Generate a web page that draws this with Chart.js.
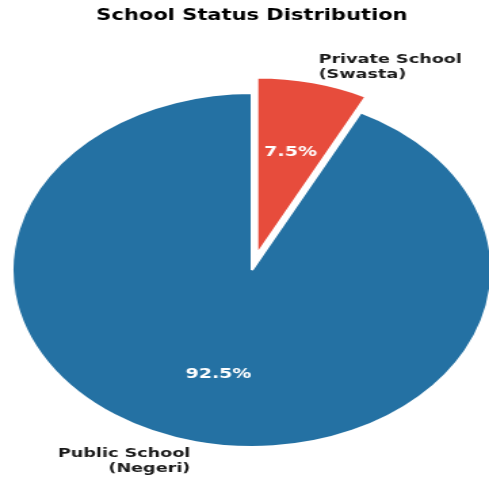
<!DOCTYPE html>
<html>
<head>
<meta charset="utf-8">
<script src="https://cdn.jsdelivr.net/npm/chart.js@4.4.0/dist/chart.umd.min.js"></script>
<style>
  html, body { margin: 0; padding: 0; background: #fff; }
  #pie { display: block; }
</style>
</head>
<body>
<!-- the reference is stretched sideways, so draw narrow and widen with css -->
<canvas id="pie" width="361" height="477" style="width:489px;height:477px"></canvas>
<script>
// data
const categories = [['Private School', '(Swasta)'], ['Public School', '(Negeri)']];
const shares = [7.5, 92.5];

// pull slices out from the centre (like matplotlib explode, fraction of radius)
const explodeSlices = {
  id: 'explodeSlices',
  afterDatasetUpdate(chart, args, opts) {
    const meta = chart.getDatasetMeta(args.index);
    meta.data.forEach((arc, i) => {
      const f = (opts.explode || [])[i] || 0;
      if (!f) return;
      const mid = (arc.startAngle + arc.endAngle) / 2;
      arc.x += Math.cos(mid) * f * arc.outerRadius;
      arc.y += Math.sin(mid) * f * arc.outerRadius;
    });
  }
};

// labels on and around the slices, like matplotlib autopct
const pieLabels = {
  id: 'pieLabels',
  afterDatasetsDraw(chart) {
    const ctx = chart.ctx;
    const meta = chart.getDatasetMeta(0);
    meta.data.forEach((arc, i) => {
      const p = arc.getProps(['x', 'y', 'startAngle', 'endAngle', 'outerRadius']);
      const mid = (p.startAngle + p.endAngle) / 2;
      const r = p.outerRadius;
      ctx.save();
      ctx.textBaseline = 'alphabetic';
      // percentage inside
      ctx.font = 'bold 14px "DejaVu Sans"';
      ctx.fillStyle = '#ffffff';
      ctx.textAlign = 'center';
      ctx.fillText(shares[i].toFixed(1) + '%', p.x + Math.cos(mid) * r * 0.6, p.y + Math.sin(mid) * r * 0.6 + 5);
      // category outside
      const lx = p.x + Math.cos(mid) * r * 1.1;
      const ly = p.y + Math.sin(mid) * r * 1.1;
      const lines = categories[i];
      const lh = 15;
      ctx.font = 'bold 13px "DejaVu Sans"';
      ctx.fillStyle = '#1a1a1a';
      ctx.textAlign = Math.cos(mid) >= 0 ? 'left' : 'right';
      lines.forEach((t, k) => {
        ctx.fillText(t, lx, ly + (k - (lines.length - 1) / 2) * lh + 5);
      });
      ctx.restore();
    });
  }
};

const config = {
  type: 'pie',
  data: {
    labels: categories.map(c => c.join(' ')),
    datasets: [{
      data: shares,
      backgroundColor: ['#e74c3c', '#2471a3'],
      borderColor: '#ffffff',
      borderWidth: 2,
      radius: 177,
      clip: false
    }]
  },
  options: {
    responsive: false,
    animation: false,
    events: [],
    layout: { padding: { left: 11, right: 0, top: 0, bottom: 0 } },
    plugins: {
      legend: { display: false },
      tooltip: { enabled: false },
      explodeSlices: { explode: [0.09, 0] },
      title: {
        display: true,
        text: 'School Status Distribution',
        color: '#000000',
        font: { family: 'DejaVu Sans', size: 15.5, weight: 'bold' },
        padding: { top: 7, bottom: 37.4 }
      }
    }
  },
  plugins: [explodeSlices, pieLabels]
};

const ctx = document.getElementById('pie').getContext('2d');
const myChart = new Chart(ctx, config);
</script>
</body>
</html>
